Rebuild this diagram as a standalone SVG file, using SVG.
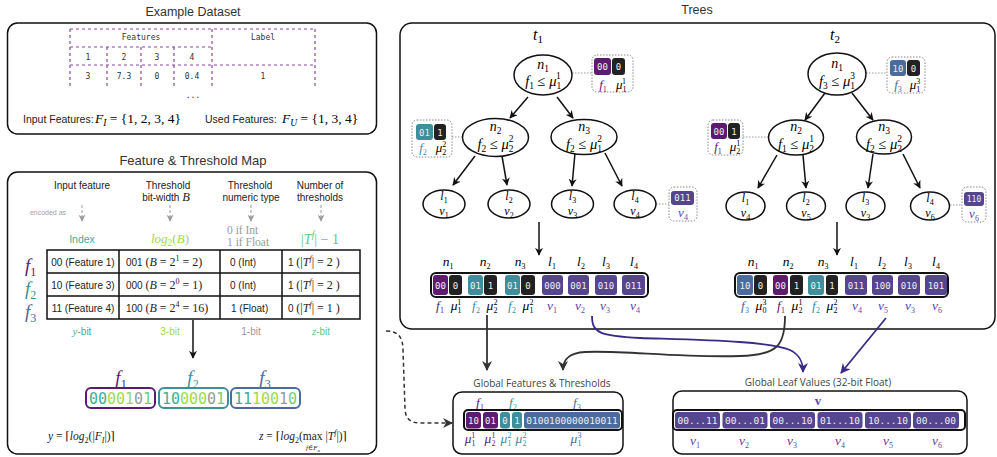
<svg xmlns="http://www.w3.org/2000/svg" width="997" height="457" viewBox="0 0 997 457">
<style>
.title{font-family:"Liberation Sans",Arial,sans-serif;font-size:12.5px;fill:#333;text-anchor:middle}
.gtitle{font-family:"Open Sans","Lato",sans-serif;font-size:10px;fill:#444;text-anchor:middle}
.box{fill:#fff;stroke:#111;stroke-width:1.5}
.sans{font-family:"Liberation Sans",Arial,sans-serif;font-size:10px}
.mono{font-family:"DejaVu Sans Mono",monospace}
.ds{font-family:"DejaVu Sans Mono",monospace;font-size:8px;fill:#333;text-anchor:middle}
.dash{fill:none;stroke:#8a4aa0;stroke-width:1.2;stroke-dasharray:3 3}
.m{font-family:"Liberation Serif","DejaVu Serif",serif;font-style:italic}
.s{font-size:8px;font-style:normal}
.sl{font-size:9.5px;font-style:normal}
.r{font-style:normal}
.c{text-anchor:middle}
.lf{font-size:12px}
.node{fill:#fff;stroke:#111;stroke-width:1.5}
.edge{fill:none;stroke:#111;stroke-width:1.5;marker-end:url(#ah)}
.ann{fill:#fff;stroke:#888;stroke-width:1;stroke-dasharray:1.5 1.5}
.dot{fill:none;stroke:#999;stroke-width:1;stroke-dasharray:1.5 1.5}
.ct{font-family:"DejaVu Sans Mono",monospace;font-size:9px;fill:#eee;text-anchor:middle}
.row{fill:#fff;stroke:#111;stroke-width:2}
.tbl{fill:none;stroke:#111;stroke-width:1.5}
.gd{fill:none;stroke:#999;stroke-width:1;stroke-dasharray:3 2;marker-end:url(#ahg)}
.cP{fill:#5c1b6f}.cT{fill:#3c8f9b}.cB{fill:#4a6b9b}.cK{fill:#222}.cV{fill:#55458f}
.tP{fill:#5c1b6f}.tT{fill:#3c8f9b}.tB{fill:#4a6b9b}.tV{fill:#5a4aa0}
</style>
<defs>
<marker id="ah" viewBox="0 0 10 10" refX="9" refY="5" markerWidth="8" markerHeight="8" markerUnits="userSpaceOnUse" orient="auto"><path d="M0,0 L10,5 L0,10 L3,5Z" fill="#111"/></marker>
<marker id="ahd" viewBox="0 0 10 10" refX="9" refY="5" markerWidth="10" markerHeight="10" markerUnits="userSpaceOnUse" orient="auto"><path d="M0,0 L10,5 L0,10 L3,5Z" fill="#333"/></marker>
<marker id="ahp" viewBox="0 0 10 10" refX="9" refY="5" markerWidth="10" markerHeight="10" markerUnits="userSpaceOnUse" orient="auto"><path d="M0,0 L10,5 L0,10 L3,5Z" fill="#3b2a85"/></marker>
<marker id="ahg" viewBox="0 0 10 10" refX="9" refY="5" markerWidth="7" markerHeight="7" markerUnits="userSpaceOnUse" orient="auto"><path d="M0,0 L10,5 L0,10 L3,5Z" fill="#999"/></marker>
</defs>
<rect width="997" height="457" fill="#fff"/>

<g id="dataset">
<text class="title" x="193" y="16">Example Dataset</text>
<rect class="box" x="7.5" y="23" width="369" height="111" rx="10"/>
<path class="dash" d="M70,29H315 M70,47H212 M70,65H315 M70,29V86 M212,29V86 M315,29V86 M107,47V86 M141,47V86 M174,47V86"/>
<text class="ds" x="141" y="40">Features</text>
<text class="ds" x="263" y="40">Label</text>
<text class="ds" x="88" y="60">1</text><text class="ds" x="124" y="60">2</text><text class="ds" x="157" y="60">3</text><text class="ds" x="192" y="60">4</text>
<text class="ds" x="88" y="79">3</text><text class="ds" x="124" y="79">7.3</text><text class="ds" x="157" y="79">0</text><text class="ds" x="192" y="79">0.4</text><text class="ds" x="263" y="79">1</text>
<text class="ds" x="193" y="98">...</text>
<text class="sans" x="23" y="123" style="font-size:10.5px;fill:#222">Input Features:</text>
<text class="m" x="95" y="123" font-size="13.5">F<tspan class="sl" style="font-style:italic" dy="3">I</tspan><tspan class="r" dy="-3"> = {1, 2, 3, 4}</tspan></text>
<text class="sans" x="205" y="123" style="font-size:10.5px;fill:#222">Used Features:</text>
<text class="m" x="282" y="123" font-size="13.5">F<tspan class="sl" style="font-style:italic" dy="3">U</tspan><tspan class="r" dy="-3"> = {1, 3, 4}</tspan></text>
</g>

<g id="feature-map">
<text class="title" x="193" y="165" style="font-size:13px">Feature &amp; Threshold Map</text>
<rect class="box" x="7.5" y="172" width="369" height="282" rx="10"/>
<text class="sans c" x="82" y="189" fill="#222">Input feature</text>
<text class="sans c" x="168" y="189" fill="#222">Threshold</text>
<text class="sans c" x="166" y="201" fill="#222">bit-width <tspan class="m" font-size="12.5">B</tspan></text>
<text class="sans c" x="250" y="189" fill="#222">Threshold</text>
<text class="sans c" x="251" y="201" fill="#222">numeric type</text>
<text class="sans c" x="320" y="189" fill="#222">Number of</text>
<text class="sans c" x="320" y="201" fill="#222">thresholds</text>
<text class="sans c" x="48" y="215" style="font-size:7px;fill:#a0a0a0">encoded as</text>
<path class="gd" d="M82,205V221"/>
<path class="gd" d="M170,205V221"/>
<path class="gd" d="M251,205V221"/>
<path class="gd" d="M321,205V221"/>
<text class="sans c" x="82" y="243" style="font-size:10.5px;fill:#40ae94">Index</text>
<text class="m c" x="170" y="243" font-size="13" fill="#9fd84f">log<tspan class="sl" dy="3">2</tspan><tspan class="r" dy="-3">(</tspan>B<tspan class="r">)</tspan></text>
<text class="m r" x="227" y="234" font-size="11.5" fill="#9a9a9a">0 if Int</text>
<text class="m r" x="227" y="246" font-size="11.5" fill="#9a9a9a">1 if Float</text>
<text class="m c" x="320" y="244" font-size="14" fill="#5ec883"><tspan class="r">|</tspan>T<tspan class="sl" style="font-style:italic" dy="-6">f</tspan><tspan class="r" dy="6">| − 1</tspan></text>

<text class="m" x="25" y="272" font-size="19" fill="#5c1b6f">f<tspan class="r" style="font-size:12px" dy="4">1</tspan></text>
<text class="m" x="25" y="295" font-size="19" fill="#3c8f9b">f<tspan class="r" style="font-size:12px" dy="4">2</tspan></text>
<text class="m" x="25" y="318" font-size="19" fill="#4a6b9b">f<tspan class="r" style="font-size:12px" dy="4">3</tspan></text>
<path class="tbl" d="M47,250H360V319H47Z M47,273H360 M47,296H360 M119,250V319 M220,250V319 M282,250V319"/>
<text class="sans c" x="83" y="266" fill="#222">00 (Feature 1)</text>
<text class="sans c" x="83" y="289" fill="#222">10 (Feature 3)</text>
<text class="sans c" x="83" y="312" fill="#222">11 (Feature 4)</text>
<text x="126" y="266" fill="#222"><tspan class="sans">001 </tspan><tspan class="m r" font-size="12">(</tspan><tspan class="m" font-size="12">B</tspan><tspan class="m r" font-size="12"> = 2</tspan><tspan class="m s" dy="-5">1</tspan><tspan class="m r" font-size="12" dy="5"> = 2)</tspan></text>
<text x="126" y="289" fill="#222"><tspan class="sans">000 </tspan><tspan class="m r" font-size="12">(</tspan><tspan class="m" font-size="12">B</tspan><tspan class="m r" font-size="12"> = 2</tspan><tspan class="m s" dy="-5">0</tspan><tspan class="m r" font-size="12" dy="5"> = 1)</tspan></text>
<text x="126" y="312" fill="#222"><tspan class="sans">100 </tspan><tspan class="m r" font-size="12">(</tspan><tspan class="m" font-size="12">B</tspan><tspan class="m r" font-size="12"> = 2</tspan><tspan class="m s" dy="-5">4</tspan><tspan class="m r" font-size="12" dy="5"> = 16)</tspan></text>
<text class="sans" x="230" y="266" fill="#222">0 (Int)</text>
<text class="sans" x="230" y="289" fill="#222">0 (Int)</text>
<text class="sans" x="231" y="312" fill="#222">1 (Float)</text>
<text x="288" y="266" fill="#222"><tspan class="sans">1 </tspan><tspan class="m r" font-size="12"> (|</tspan><tspan class="m" font-size="12">T</tspan><tspan class="m s" style="font-style:italic" dy="-5">f</tspan><tspan class="m r" font-size="12" dy="5">| = 2 )</tspan></text>
<text x="288" y="289" fill="#222"><tspan class="sans">1 </tspan><tspan class="m r" font-size="12"> (|</tspan><tspan class="m" font-size="12">T</tspan><tspan class="m s" style="font-style:italic" dy="-5">f</tspan><tspan class="m r" font-size="12" dy="5">| = 2 )</tspan></text>
<text x="288" y="312" fill="#222"><tspan class="sans">0 </tspan><tspan class="m r" font-size="12"> (|</tspan><tspan class="m" font-size="12">T</tspan><tspan class="m s" style="font-style:italic" dy="-5">f</tspan><tspan class="m r" font-size="12" dy="5">| = 1 )</tspan></text>

<text class="sans c" x="82" y="335" style="fill:#40ae94"><tspan class="m" font-size="11">y</tspan>-bit</text>
<text class="sans c" x="170" y="335" style="fill:#9fd84f">3-bit</text>
<text class="sans c" x="251" y="335" style="fill:#9a9a9a">1-bit</text>
<text class="sans c" x="321" y="335" style="fill:#5ec883"><tspan class="m" font-size="11">z</tspan>-bit</text>
<path class="edge" d="M193,320V358" stroke-width="2"/>

<text class="m c" x="121" y="384" font-size="19" fill="#5c1b6f">f<tspan class="r" style="font-size:12px" dy="4">1</tspan></text>
<text class="m c" x="193" y="384" font-size="19" fill="#3c8f9b">f<tspan class="r" style="font-size:12px" dy="4">2</tspan></text>
<text class="m c" x="265" y="384" font-size="19" fill="#4a6b9b">f<tspan class="r" style="font-size:12px" dy="4">3</tspan></text>
<rect x="86" y="388" width="69" height="20" rx="5" fill="#fff" stroke="#5c1b6f" stroke-width="2"/>
<rect x="159" y="388" width="69" height="20" rx="5" fill="#fff" stroke="#3c8f9b" stroke-width="2"/>
<rect x="231" y="388" width="69" height="20" rx="5" fill="#fff" stroke="#4a6b9b" stroke-width="2"/>
<text class="mono c" x="120.5" y="404" font-size="15"><tspan fill="#40ae94">00</tspan><tspan fill="#9fd84f">001</tspan><tspan fill="#9a9a9a">0</tspan><tspan fill="#6fcf7a">1</tspan></text>
<text class="mono c" x="193.5" y="404" font-size="15"><tspan fill="#40ae94">10</tspan><tspan fill="#9fd84f">000</tspan><tspan fill="#9a9a9a">0</tspan><tspan fill="#6fcf7a">1</tspan></text>
<text class="mono c" x="265.5" y="404" font-size="15"><tspan fill="#40ae94">11</tspan><tspan fill="#9fd84f">100</tspan><tspan fill="#9a9a9a">1</tspan><tspan fill="#6fcf7a">0</tspan></text>

<text class="m" x="48" y="440" font-size="11.5" fill="#222">y<tspan class="r"> = ⌈</tspan>log<tspan class="s" dy="3">2</tspan><tspan class="r" dy="-3">(|</tspan>F<tspan class="s" style="font-style:italic" dy="3">I</tspan><tspan class="r" dy="-3">|)⌉</tspan></text>
<text class="m" x="259" y="440" font-size="11.5" fill="#222">z<tspan class="r"> = ⌈</tspan>log<tspan class="s" dy="3">2</tspan><tspan class="r" dy="-3">(max </tspan><tspan class="r">|</tspan>T<tspan class="s" style="font-style:italic" dy="-5">f</tspan><tspan class="r" dy="5">|)⌉</tspan></text>
<text class="m c" x="313" y="450" font-size="7" fill="#222">f<tspan class="r">∈</tspan>F<tspan font-size="5" dy="1.5">u</tspan></text>
</g>

<g id="trees-frame">
<text class="title" x="697" y="14">Trees</text>
<rect class="box" x="400" y="23" width="595" height="306" rx="12"/>
<text class="m c" x="538" y="40" font-size="16">t<tspan class="r" style="font-size:11px" dy="3">1</tspan></text>
<text class="m c" x="835" y="40" font-size="16">t<tspan class="r" style="font-size:11px" dy="3">2</tspan></text>
</g>

<g id="connectors">
<path class="edge" d="M528,97L510,118"/>
<path class="edge" d="M557,97L573,118"/>
<path class="edge" d="M475,156L453,185"/>
<path class="edge" d="M502,156L507,185"/>
<path class="edge" d="M575,153L572,186"/>
<path class="edge" d="M605,153L622,186"/>
<path class="edge" d="M825,93L805,120"/>
<path class="edge" d="M852,93L873,120"/>
<path class="edge" d="M777,155L758,188"/>
<path class="edge" d="M803,155L806,188"/>
<path class="edge" d="M873,154L868,188"/>
<path class="edge" d="M903,154L920,188"/>
<path class="dot" d="M572,73H592 M452,137H462 M656,204H669 M866,73H887 M743,137H768 M950,205H962"/>
<path class="edge" d="M539,222V255" stroke-width="2"/>
<path class="edge" d="M837,222V255" stroke-width="2"/>
<path d="M487,315V370" fill="none" stroke="#333" stroke-width="1.8" marker-end="url(#ahd)"/>
<path d="M785,316 C785,345 778,355 740,356 C680,358 620,350 585,352 C568,353 563,360 563,370" fill="none" stroke="#333" stroke-width="1.8" marker-end="url(#ahd)"/>
<path d="M592,316 C592,333 600,336 640,338 C700,340 770,341 790,350 C800,355 803,362 803,372" fill="none" stroke="#3b2a85" stroke-width="1.8" marker-end="url(#ahp)"/>
<path d="M886,318 L841,373" fill="none" stroke="#3b2a85" stroke-width="1.8" marker-end="url(#ahp)"/>
<path d="M386,331 C398,331 403,337 403,350 L405,408 C405,418 410,423 420,423 L452,423" fill="none" stroke="#333" stroke-width="1.5" stroke-dasharray="4 3" marker-end="url(#ahd)"/>
</g>

<g id="t1-n1">
<ellipse class="node" cx="543" cy="75" rx="29" ry="20"/>
<text class="m c" x="543" y="69" font-size="14">n<tspan class="sl" dy="2.5">1</tspan></text>
<text class="m c" x="543" y="86" font-size="14.5">f<tspan class="sl" dy="3">1</tspan><tspan class="r" dy="-3"> ≤ </tspan>μ<tspan class="sl" dy="3">1</tspan><tspan class="sl" dx="-4.75" dy="-10">1</tspan></text>
<rect class="ann" x="592" y="55" width="41" height="37" rx="5"/>
<rect class="cP" x="594" y="58" width="17" height="17" rx="3"/><rect class="cK" x="612" y="58" width="13" height="17" rx="3"/>
<text class="ct" x="602.5" y="70">00</text><text class="ct" x="618.5" y="70">0</text>
<text class="m c tP" x="603" y="89" font-size="13">f<tspan class="s" dy="2.5">1</tspan></text>
<text class="m c" x="621" y="89" font-size="13">μ<tspan class="s" dy="2.5">1</tspan><tspan class="s" dx="-4" dy="-8">1</tspan></text>
</g>
<g id="t1-n2">
<ellipse class="node" cx="495.5" cy="137.5" rx="33" ry="19"/>
<text class="m c" x="495.5" y="131" font-size="14">n<tspan class="sl" dy="2.5">2</tspan></text>
<text class="m c" x="495.5" y="149" font-size="14.5">f<tspan class="sl" dy="3">2</tspan><tspan class="r" dy="-3"> ≤ </tspan>μ<tspan class="sl" dy="3">2</tspan><tspan class="sl" dx="-4.75" dy="-10">2</tspan></text>
<rect class="ann" x="412" y="120" width="40" height="37" rx="5"/>
<rect class="cT" x="416" y="124" width="17" height="16" rx="3"/><rect class="cK" x="434" y="124" width="12" height="16" rx="3"/>
<text class="ct" x="424.5" y="135.5">01</text><text class="ct" x="440" y="135.5">1</text>
<text class="m c tT" x="423" y="152" font-size="13">f<tspan class="s" dy="2.5">2</tspan></text>
<text class="m c" x="441" y="152" font-size="13">μ<tspan class="s" dy="2.5">2</tspan><tspan class="s" dx="-4" dy="-8">2</tspan></text>
</g>
<g id="t1-n3">
<ellipse class="node" cx="584" cy="137" rx="33" ry="17.5"/>
<text class="m c" x="584" y="131" font-size="14">n<tspan class="sl" dy="2.5">3</tspan></text>
<text class="m c" x="584" y="149" font-size="14.5">f<tspan class="sl" dy="3">2</tspan><tspan class="r" dy="-3"> ≤ </tspan>μ<tspan class="sl" dy="3">1</tspan><tspan class="sl" dx="-4.75" dy="-10">2</tspan></text>
</g>
<g id="t1-l1"><ellipse class="node" cx="444" cy="204" rx="21" ry="14"/><text class="m c lf" x="444" y="200">l<tspan class="s" dy="2.5">1</tspan></text><text class="m c lf" x="444" y="215">v<tspan class="s" dy="2.5">1</tspan></text></g>
<g id="t1-l2"><ellipse class="node" cx="509" cy="204" rx="21" ry="14"/><text class="m c lf" x="509" y="200">l<tspan class="s" dy="2.5">2</tspan></text><text class="m c lf" x="509" y="215">v<tspan class="s" dy="2.5">2</tspan></text></g>
<g id="t1-l3"><ellipse class="node" cx="572.5" cy="204" rx="21" ry="14"/><text class="m c lf" x="572.5" y="200">l<tspan class="s" dy="2.5">3</tspan></text><text class="m c lf" x="572.5" y="215">v<tspan class="s" dy="2.5">3</tspan></text></g>
<g id="t1-l4"><ellipse class="node" cx="635" cy="204" rx="21" ry="14"/><text class="m c lf" x="635" y="200">l<tspan class="s" dy="2.5">4</tspan></text><text class="m c lf" x="635" y="215">v<tspan class="s" dy="2.5">4</tspan></text>
<rect class="ann" x="669" y="187" width="28" height="34" rx="5"/>
<rect class="cV" x="671" y="191" width="23" height="14" rx="3"/><text class="ct" x="682.5" y="201">011</text>
<text class="m c tV" x="683" y="217" font-size="13">v<tspan class="s" dy="2.5">4</tspan></text>
</g>

<g id="t2-n1">
<ellipse class="node" cx="837" cy="74" rx="29" ry="21"/>
<text class="m c" x="837" y="68" font-size="14">n<tspan class="sl" dy="2.5">1</tspan></text>
<text class="m c" x="837" y="86" font-size="14.5">f<tspan class="sl" dy="3">3</tspan><tspan class="r" dy="-3"> ≤ </tspan>μ<tspan class="sl" dy="3">1</tspan><tspan class="sl" dx="-4.75" dy="-10">3</tspan></text>
<rect class="ann" x="887" y="57" width="38" height="36" rx="5"/>
<rect class="cB" x="890" y="60" width="16" height="16" rx="3"/><rect class="cK" x="907" y="60" width="13" height="16" rx="3"/>
<text class="ct" x="898" y="71.5">10</text><text class="ct" x="913.5" y="71.5">0</text>
<text class="m c tB" x="898" y="89" font-size="13">f<tspan class="s" dy="2.5">3</tspan></text>
<text class="m c" x="915" y="89" font-size="13">μ<tspan class="s" dy="2.5">1</tspan><tspan class="s" dx="-4" dy="-8">3</tspan></text>
</g>
<g id="t2-n2">
<ellipse class="node" cx="796" cy="137.5" rx="27.5" ry="17.5"/>
<text class="m c" x="796" y="131" font-size="14">n<tspan class="sl" dy="2.5">2</tspan></text>
<text class="m c" x="796" y="149" font-size="14.5">f<tspan class="sl" dy="3">1</tspan><tspan class="r" dy="-3"> ≤ </tspan>μ<tspan class="sl" dy="3">2</tspan><tspan class="sl" dx="-4.75" dy="-10">1</tspan></text>
<rect class="ann" x="708" y="120" width="35" height="35" rx="5"/>
<rect class="cP" x="711" y="123" width="16" height="16" rx="3"/><rect class="cK" x="728" y="123" width="12" height="16" rx="3"/>
<text class="ct" x="719" y="134.5">00</text><text class="ct" x="734" y="134.5">1</text>
<text class="m c tP" x="718" y="151" font-size="13">f<tspan class="s" dy="2.5">1</tspan></text>
<text class="m c" x="735" y="151" font-size="13">μ<tspan class="s" dy="2.5">2</tspan><tspan class="s" dx="-4" dy="-8">1</tspan></text>
</g>
<g id="t2-n3">
<ellipse class="node" cx="884" cy="137" rx="27.5" ry="17"/>
<text class="m c" x="884" y="131" font-size="14">n<tspan class="sl" dy="2.5">3</tspan></text>
<text class="m c" x="884" y="149" font-size="14.5">f<tspan class="sl" dy="3">2</tspan><tspan class="r" dy="-3"> ≤ </tspan>μ<tspan class="sl" dy="3">2</tspan><tspan class="sl" dx="-4.75" dy="-10">2</tspan></text>
</g>
<g id="t2-l1"><ellipse class="node" cx="745.5" cy="206" rx="19.5" ry="14"/><text class="m c lf" x="745.5" y="202">l<tspan class="s" dy="2.5">1</tspan></text><text class="m c lf" x="745.5" y="217">v<tspan class="s" dy="2.5">4</tspan></text></g>
<g id="t2-l2"><ellipse class="node" cx="806" cy="206" rx="19.5" ry="14"/><text class="m c lf" x="806" y="202">l<tspan class="s" dy="2.5">2</tspan></text><text class="m c lf" x="806" y="217">v<tspan class="s" dy="2.5">5</tspan></text></g>
<g id="t2-l3"><ellipse class="node" cx="865.5" cy="206" rx="19.5" ry="14"/><text class="m c lf" x="865.5" y="202">l<tspan class="s" dy="2.5">3</tspan></text><text class="m c lf" x="865.5" y="217">v<tspan class="s" dy="2.5">3</tspan></text></g>
<g id="t2-l4"><ellipse class="node" cx="930" cy="206" rx="19.5" ry="14"/><text class="m c lf" x="930" y="202">l<tspan class="s" dy="2.5">4</tspan></text><text class="m c lf" x="930" y="217">v<tspan class="s" dy="2.5">6</tspan></text>
<rect class="ann" x="962" y="187" width="24" height="35" rx="5"/>
<rect class="cV" x="964" y="192" width="20" height="14" rx="3"/><text class="ct" x="974" y="202" style="font-size:8px">110</text>
<text class="m c tV" x="974" y="218" font-size="13">v<tspan class="s" dy="2.5">6</tspan></text>
</g>

<g id="t1-encoding">
<text class="m c" x="448" y="266" font-size="13.5">n<tspan class="s" dy="2.5">1</tspan></text>
<text class="m c" x="485" y="266" font-size="13.5">n<tspan class="s" dy="2.5">2</tspan></text>
<text class="m c" x="520" y="266" font-size="13.5">n<tspan class="s" dy="2.5">3</tspan></text>
<text class="m c" x="552" y="266" font-size="13.5">l<tspan class="s" dy="2.5">1</tspan></text>
<text class="m c" x="581" y="266" font-size="13.5">l<tspan class="s" dy="2.5">2</tspan></text>
<text class="m c" x="606" y="266" font-size="13.5">l<tspan class="s" dy="2.5">3</tspan></text>
<text class="m c" x="634" y="266" font-size="13.5">l<tspan class="s" dy="2.5">4</tspan></text>
<rect class="row" x="431" y="273" width="217" height="24" rx="5"/>
<rect class="cP" x="433" y="275" width="15" height="20" rx="3"/><text class="ct" x="440.5" y="288.5">00</text>
<rect class="cK" x="449" y="275" width="13" height="20" rx="3"/><text class="ct" x="455.5" y="288.5">0</text>
<rect class="cT" x="468" y="275" width="15" height="20" rx="3"/><text class="ct" x="475.5" y="288.5">01</text>
<rect class="cK" x="484" y="275" width="13" height="20" rx="3"/><text class="ct" x="490.5" y="288.5">1</text>
<rect class="cT" x="505" y="275" width="15" height="20" rx="3"/><text class="ct" x="512.5" y="288.5">01</text>
<rect class="cK" x="521" y="275" width="14" height="20" rx="3"/><text class="ct" x="528" y="288.5">0</text>
<rect class="cV" x="542" y="275" width="21" height="20" rx="3"/><text class="ct" x="552.5" y="288.5">000</text>
<rect class="cV" x="568" y="275" width="21" height="20" rx="3"/><text class="ct" x="578.5" y="288.5">001</text>
<rect class="cV" x="595" y="275" width="22" height="20" rx="3"/><text class="ct" x="606" y="288.5">010</text>
<rect class="cV" x="622" y="275" width="23" height="20" rx="3"/><text class="ct" x="633.5" y="288.5">011</text>
<text class="m c tP" x="440" y="310" font-size="13.5">f<tspan class="s" dy="2.5">1</tspan></text>
<text class="m c" x="456" y="310" font-size="13.5">μ<tspan class="s" dy="2.5">1</tspan><tspan class="s" dx="-4" dy="-8">1</tspan></text>
<text class="m c tT" x="476" y="310" font-size="13.5">f<tspan class="s" dy="2.5">2</tspan></text>
<text class="m c" x="492" y="310" font-size="13.5">μ<tspan class="s" dy="2.5">2</tspan><tspan class="s" dx="-4" dy="-8">2</tspan></text>
<text class="m c tT" x="512" y="310" font-size="13.5">f<tspan class="s" dy="2.5">2</tspan></text>
<text class="m c" x="528" y="310" font-size="13.5">μ<tspan class="s" dy="2.5">1</tspan><tspan class="s" dx="-4" dy="-8">2</tspan></text>
<text class="m c tV" x="552" y="310" font-size="13.5">v<tspan class="s" dy="2.5">1</tspan></text>
<text class="m c tV" x="580" y="310" font-size="13.5">v<tspan class="s" dy="2.5">2</tspan></text>
<text class="m c tV" x="605" y="310" font-size="13.5">v<tspan class="s" dy="2.5">3</tspan></text>
<text class="m c tV" x="635" y="310" font-size="13.5">v<tspan class="s" dy="2.5">4</tspan></text>
</g>

<g id="t2-encoding">
<text class="m c" x="753" y="266" font-size="13.5">n<tspan class="s" dy="2.5">1</tspan></text>
<text class="m c" x="788" y="266" font-size="13.5">n<tspan class="s" dy="2.5">2</tspan></text>
<text class="m c" x="823" y="266" font-size="13.5">n<tspan class="s" dy="2.5">3</tspan></text>
<text class="m c" x="854" y="266" font-size="13.5">l<tspan class="s" dy="2.5">1</tspan></text>
<text class="m c" x="882" y="266" font-size="13.5">l<tspan class="s" dy="2.5">2</tspan></text>
<text class="m c" x="908" y="266" font-size="13.5">l<tspan class="s" dy="2.5">3</tspan></text>
<text class="m c" x="936" y="266" font-size="13.5">l<tspan class="s" dy="2.5">4</tspan></text>
<rect class="row" x="735" y="273" width="213" height="24" rx="5"/>
<rect class="cB" x="737" y="275" width="16" height="20" rx="3"/><text class="ct" x="745" y="288.5">10</text>
<rect class="cK" x="754" y="275" width="13" height="20" rx="3"/><text class="ct" x="760.5" y="288.5">0</text>
<rect class="cP" x="773" y="275" width="15" height="20" rx="3"/><text class="ct" x="780.5" y="288.5">00</text>
<rect class="cK" x="790" y="275" width="13" height="20" rx="3"/><text class="ct" x="796.5" y="288.5">1</text>
<rect class="cT" x="808" y="275" width="16" height="20" rx="3"/><text class="ct" x="816" y="288.5">01</text>
<rect class="cK" x="826" y="275" width="12" height="20" rx="3"/><text class="ct" x="832" y="288.5">1</text>
<rect class="cV" x="845" y="275" width="22" height="20" rx="3"/><text class="ct" x="856" y="288.5">011</text>
<rect class="cV" x="872" y="275" width="21" height="20" rx="3"/><text class="ct" x="882.5" y="288.5">100</text>
<rect class="cV" x="898" y="275" width="22" height="20" rx="3"/><text class="ct" x="909" y="288.5">010</text>
<rect class="cV" x="925" y="275" width="22" height="20" rx="3"/><text class="ct" x="936" y="288.5">101</text>
<text class="m c tB" x="745" y="310" font-size="13.5">f<tspan class="s" dy="2.5">3</tspan></text>
<text class="m c" x="761" y="310" font-size="13.5">μ<tspan class="s" dy="2.5">0</tspan><tspan class="s" dx="-4" dy="-8">3</tspan></text>
<text class="m c tP" x="781" y="310" font-size="13.5">f<tspan class="s" dy="2.5">1</tspan></text>
<text class="m c" x="797" y="310" font-size="13.5">μ<tspan class="s" dy="2.5">2</tspan><tspan class="s" dx="-4" dy="-8">1</tspan></text>
<text class="m c tT" x="816" y="310" font-size="13.5">f<tspan class="s" dy="2.5">2</tspan></text>
<text class="m c" x="832" y="310" font-size="13.5">μ<tspan class="s" dy="2.5">2</tspan><tspan class="s" dx="-4" dy="-8">2</tspan></text>
<text class="m c tV" x="857" y="310" font-size="13.5">v<tspan class="s" dy="2.5">4</tspan></text>
<text class="m c tV" x="883" y="310" font-size="13.5">v<tspan class="s" dy="2.5">5</tspan></text>
<text class="m c tV" x="910" y="310" font-size="13.5">v<tspan class="s" dy="2.5">3</tspan></text>
<text class="m c tV" x="937" y="310" font-size="13.5">v<tspan class="s" dy="2.5">6</tspan></text>
</g>

<g id="global-features">
<text class="gtitle" x="542" y="387">Global Features &amp; Thresholds</text>
<rect class="box" x="453" y="392" width="170" height="62" rx="9"/>
<text class="m c tP" x="480" y="407" font-size="13.5">f<tspan class="s" dy="2.5">1</tspan></text>
<text class="m c tT" x="513" y="407" font-size="13.5">f<tspan class="s" dy="2.5">2</tspan></text>
<text class="m c tB" x="577" y="407" font-size="13.5">f<tspan class="s" dy="2.5">3</tspan></text>
<rect class="row" x="464" y="410" width="158" height="20" rx="4" stroke-width="1.5"/>
<rect class="cP" x="466" y="412" width="15" height="16.5" rx="3"/><text class="ct" x="473.5" y="423.5">10</text>
<rect class="cP" x="483" y="412" width="15" height="16.5" rx="3"/><text class="ct" x="490.5" y="423.5">01</text>
<rect class="cT" x="500" y="412" width="10" height="16.5" rx="3"/><text class="ct" x="505" y="423.5">0</text>
<rect class="cT" x="512" y="412" width="10" height="16.5" rx="3"/><text class="ct" x="517" y="423.5">1</text>
<rect class="cB" x="524" y="412" width="96" height="16.5" rx="3"/><text class="ct" x="572" y="423.5" style="font-size:9.5px">0100100000010011</text>
<text class="m c tP" x="470" y="443" font-size="13.5">μ<tspan class="s" dy="2.5">1</tspan><tspan class="s" dx="-4" dy="-8">1</tspan></text>
<text class="m c tP" x="490" y="443" font-size="13.5">μ<tspan class="s" dy="2.5">2</tspan><tspan class="s" dx="-4" dy="-8">1</tspan></text>
<text class="m c tT" x="506" y="443" font-size="13.5">μ<tspan class="s" dy="2.5">1</tspan><tspan class="s" dx="-4" dy="-8">2</tspan></text>
<text class="m c tT" x="521" y="443" font-size="13.5">μ<tspan class="s" dy="2.5">2</tspan><tspan class="s" dx="-4" dy="-8">2</tspan></text>
<text class="m c tB" x="576" y="443" font-size="13.5">μ<tspan class="s" dy="2.5">1</tspan><tspan class="s" dx="-4" dy="-8">3</tspan></text>
</g>

<g id="global-leaves">
<text class="gtitle" x="818" y="386">Global Leaf Values (32-bit Float)</text>
<rect class="box" x="673" y="391" width="294" height="63" rx="9"/>
<text x="818" y="405" class="c" font-family="Liberation Serif,serif" font-weight="bold" font-size="13" fill="#5a4aa0">v</text>
<rect class="row" x="673" y="410" width="292" height="20" rx="4" stroke-width="1.5"/>
<rect class="cV" x="675" y="412" width="45" height="16.5" rx="3"/><text class="ct" x="697.5" y="423.5" style="font-size:9.5px">00...11</text>
<rect class="cV" x="722.5" y="412" width="45" height="16.5" rx="3"/><text class="ct" x="745" y="423.5" style="font-size:9.5px">00...01</text>
<rect class="cV" x="770" y="412" width="45" height="16.5" rx="3"/><text class="ct" x="792.5" y="423.5" style="font-size:9.5px">00...10</text>
<rect class="cV" x="817.5" y="412" width="45" height="16.5" rx="3"/><text class="ct" x="840" y="423.5" style="font-size:9.5px">01...10</text>
<rect class="cV" x="865" y="412" width="46" height="16.5" rx="3"/><text class="ct" x="888" y="423.5" style="font-size:9.5px">10...10</text>
<rect class="cV" x="913" y="412" width="46" height="16.5" rx="3"/><text class="ct" x="936" y="423.5" style="font-size:9.5px">00...00</text>
<text class="m c tV" x="695" y="445" font-size="13.5">v<tspan class="s" dy="2.5">1</tspan></text>
<text class="m c tV" x="744" y="445" font-size="13.5">v<tspan class="s" dy="2.5">2</tspan></text>
<text class="m c tV" x="792" y="445" font-size="13.5">v<tspan class="s" dy="2.5">3</tspan></text>
<text class="m c tV" x="840" y="445" font-size="13.5">v<tspan class="s" dy="2.5">4</tspan></text>
<text class="m c tV" x="888" y="445" font-size="13.5">v<tspan class="s" dy="2.5">5</tspan></text>
<text class="m c tV" x="937" y="445" font-size="13.5">v<tspan class="s" dy="2.5">6</tspan></text>
</g>
</svg>
